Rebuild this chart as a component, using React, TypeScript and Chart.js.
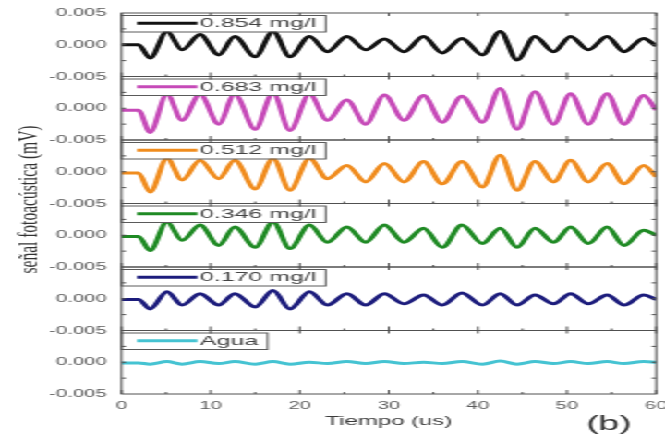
import React, { useEffect, useRef } from 'react';
import { Chart, registerables } from 'chart.js';

Chart.register(...registerables);

// ---- data ----
const tiempo = [0, 1.9, 3.2, 5.1, 6.8, 8.8, 10.9, 12.7, 15.0, 17.0, 18.9, 21.1, 23.1, 25.3, 27.4, 29.5, 31.7, 33.9, 36.0, 38.2, 40.5, 42.5, 44.4, 46.4, 48.5, 50.4, 52.4, 54.5, 56.4, 58.6, 60];

const serie0854 = [0, 0, -0.0021, 0.0021, -0.0008, 0.0016, -0.0016, 0.0013, -0.0019, 0.0021, -0.0019, 0.0013, -0.0011, 0.0013, -0.0008, 0.0009, -0.0011, 0.0013, -0.0013, 0.0010, -0.0016, 0.0021, -0.0024, 0.0013, -0.0011, 0.0013, -0.0008, 0.0013, -0.0011, 0.0010, -0.0002];
const serie0683 = [-0.0003, -0.0003, -0.0038, 0.0022, -0.0019, 0.0022, -0.0025, 0.0022, -0.0033, 0.0024, -0.0035, 0.0022, -0.0019, 0.0013, -0.0025, 0.0021, -0.0019, 0.0020, -0.0022, 0.0019, -0.0022, 0.0031, -0.0033, 0.0026, -0.0025, 0.0023, -0.0025, 0.0023, -0.0025, 0.0020, -0.0003];
const serie0512 = [-0.0002, -0.0002, -0.0032, 0.0021, -0.0013, 0.0018, -0.0011, 0.0018, -0.0027, 0.0021, -0.0029, 0.0021, -0.0011, 0.0010, -0.0016, 0.0013, -0.0016, 0.0016, -0.0019, 0.0016, -0.0024, 0.0026, -0.0029, 0.0016, -0.0016, 0.0018, -0.0016, 0.0013, -0.0019, 0.0010, -0.0008];
const serie0346 = [-0.0002, -0.0002, -0.0024, 0.0021, -0.0008, 0.0016, -0.0016, 0.0013, -0.0019, 0.0021, -0.0021, 0.0016, -0.0011, 0.0013, -0.0011, 0.0016, -0.0011, 0.0011, -0.0019, 0.0016, -0.0013, 0.0011, -0.0019, 0.0011, -0.0011, 0.0013, -0.0013, 0.0013, -0.0016, 0.0008, 0];
const serie0170 = [-0.0001, -0.0001, -0.0016, 0.0011, -0.0010, 0.0008, -0.0010, 0.0008, -0.0013, 0.0013, -0.0016, 0.0011, -0.0010, 0.0008, -0.0010, 0.0008, -0.0008, 0.0006, -0.0010, 0.0009, -0.0010, 0.0008, -0.0010, 0.0006, -0.0008, 0.0008, -0.0008, 0.0006, -0.0010, 0.0006, -0.0001];
const serieAgua = [-0.0001, -0.0001, -0.0003, 0.0001, -0.0003, 0.0001, -0.0002, 0.0001, -0.0003, 0.0001, -0.0003, 0.0000, -0.0002, 0.0001, -0.0002, 0.0001, -0.0002, 0.0000, -0.0002, 0.0001, -0.0003, 0.0002, -0.0003, 0.0001, -0.0002, 0.0001, -0.0002, 0.0001, -0.0002, 0.0001, 0.0000];

const etiquetas = ['0.854 mg/l', '0.683 mg/l', '0.512 mg/l', '0.346 mg/l', '0.170 mg/l', 'Agua'];
const series = [serie0854, serie0683, serie0512, serie0346, serie0170, serieAgua];
const colores = ['#121212', '#c64ab8', '#f08c1e', '#1f8a24', '#1c1c7c', '#45c3d2'];

const yTicks = [-0.005, 0, 0.005];
const yMinorTicks = [-0.0025, 0, 0.0025];
const xTicks = [0, 10, 20, 30, 40, 50, 60];
const xMinorTicks = [5, 15, 25, 35, 45, 55];

const tituloX = 'Tiempo (us)';
const tituloY = 'señal fotoacústica (mV)';
const marcaPanel = '(b)';

// ---- layout (unstretched canvas, stretched horizontally via CSS) ----
const W = 360;
const H = 436;
const SX = 665 / W;
const SANS = '"Liberation Sans", Arial, sans-serif';
const SERIF = '"Liberation Serif", "Times New Roman", serif';

const panelPlugin = {
  id: 'panels',
  afterDatasetsDraw(chart: any) {
    const ctx = chart.ctx;
    const xs = chart.scales.x;
    chart.data.datasets.forEach((ds: any, i: number) => {
      const ys = chart.scales['y' + i];
      ctx.save();
      ctx.font = '13.5px ' + SANS;
      const tw = ctx.measureText(ds.label).width;
      const bx = xs.left;
      const by = ys.top + 2;
      const textX = bx + 42.5;
      const bw = textX + tw + 5 - bx;
      const bh = 16.5;
      ctx.fillStyle = '#ffffff';
      ctx.fillRect(bx, by, bw, bh);
      ctx.strokeStyle = '#5a5a5a';
      ctx.lineWidth = 1;
      ctx.strokeRect(bx, by + 0.5, bw, bh);
      ctx.strokeStyle = ds.borderColor;
      ctx.lineWidth = 3;
      ctx.beginPath();
      ctx.moveTo(bx + 8.4, by + bh / 2);
      ctx.lineTo(bx + 41, by + bh / 2);
      ctx.stroke();
      ctx.fillStyle = '#444444';
      ctx.textBaseline = 'middle';
      ctx.textAlign = 'left';
      ctx.fillText(ds.label, textX, by + bh / 2 + 0.5);
      ctx.restore();
    });
  },
  afterDraw(chart: any) {
    const ctx = chart.ctx;
    const xs = chart.scales.x;
    ctx.save();
    ctx.strokeStyle = '#505050';
    ctx.lineWidth = 1;
    chart.data.datasets.forEach((_ds: any, i: number) => {
      const ys = chart.scales['y' + i];
      ctx.strokeRect(xs.left, ys.top, xs.right - xs.left, ys.bottom - ys.top);
      ctx.beginPath();
      yMinorTicks.forEach((v) => {
        const py = ys.getPixelForValue(v);
        ctx.moveTo(xs.left, py);
        ctx.lineTo(xs.left + 2.5, py);
        ctx.moveTo(xs.right, py);
        ctx.lineTo(xs.right - 2.5, py);
      });
      xTicks.forEach((v) => {
        const px = xs.getPixelForValue(v);
        ctx.moveTo(px, ys.bottom);
        ctx.lineTo(px, ys.bottom - 4);
        ctx.moveTo(px, ys.top);
        ctx.lineTo(px, ys.top + 3);
      });
      xMinorTicks.forEach((v) => {
        const px = xs.getPixelForValue(v);
        ctx.moveTo(px, ys.bottom);
        ctx.lineTo(px, ys.bottom - 2);
      });
      ctx.stroke();
    });
    // y title
    const yTop = chart.scales.y0.top;
    const yBot = chart.scales['y' + (chart.data.datasets.length - 1)].bottom;
    ctx.save();
    ctx.translate(16.2, (yTop + yBot) / 2 - 4);
    ctx.rotate(-Math.PI / 2);
    ctx.font = '15.5px ' + SERIF;
    ctx.fillStyle = '#333333';
    ctx.textAlign = 'center';
    ctx.textBaseline = 'middle';
    ctx.fillText(tituloY, 0, 0);
    ctx.restore();
    // panel mark
    ctx.font = '20px ' + SANS;
    ctx.fillStyle = '#333333';
    ctx.textAlign = 'center';
    ctx.textBaseline = 'middle';
    ctx.fillText(marcaPanel, xs.getPixelForValue(54.7), 424.5);
    ctx.restore();
  },
};

function buildYScale(i: number) {
  return {
    type: 'linear',
    position: 'left',
    stack: 'paneles',
    stackWeight: 1,
    weight: 10 - i,
    offset: false,
    min: -0.005,
    max: 0.005,
    grid: { display: false, drawTicks: false },
    border: { display: false },
    afterBuildTicks: (s: any) => {
      s.ticks = yTicks.map((v) => ({ value: v }));
    },
    afterFit: (s: any) => {
      s.width = 65.8;
      s.paddingTop = 0;
      s.paddingBottom = 0;
    },
    ticks: {
      autoSkip: false,
      padding: 8,
      color: '#5c5c5c',
      font: { family: SANS, size: 11 },
      callback: (v: number) => (i > 0 && v > 0.001 ? '' : (Math.abs(v) < 1e-9 ? 0 : v).toFixed(3)),
    },
  };
}

export default function App() {
  const ref = useRef<HTMLCanvasElement | null>(null);
  useEffect(() => {
    if (!ref.current) return;
    const scales: any = {
      x: {
        type: 'linear',
        position: 'bottom',
        min: 0,
        max: 60,
        grid: { display: false, drawTicks: false },
        border: { display: false },
        afterBuildTicks: (s: any) => {
          s.ticks = xTicks.map((v) => ({ value: v }));
        },
        afterFit: (s: any) => {
          s.height = 42;
          s.paddingLeft = 0;
          s.paddingRight = 0;
        },
        ticks: {
          autoSkip: false,
          maxRotation: 0,
          padding: 5,
          color: '#5c5c5c',
          font: { family: SANS, size: 11 },
        },
        title: {
          display: true,
          text: tituloX,
          color: '#3c3c3c',
          font: { family: SANS, size: 13 },
          padding: { top: 0, bottom: 7 },
        },
      },
    };
    series.forEach((_s, i) => {
      scales['y' + i] = buildYScale(i);
    });
    const chart = new Chart(ref.current, {
      type: 'line',
      data: {
        datasets: series.map((vals, i) => ({
          label: etiquetas[i],
          data: tiempo.map((t, k) => ({ x: t, y: vals[k] })),
          borderColor: colores[i],
          backgroundColor: colores[i],
          borderWidth: 3,
          pointRadius: 0,
          cubicInterpolationMode: 'monotone',
          fill: false,
          yAxisID: 'y' + i,
        })),
      },
      options: {
        responsive: false,
        animation: false,
        devicePixelRatio: 1,
        layout: { padding: { left: 0, right: 4.8, top: 13, bottom: 0 } },
        plugins: { legend: { display: false }, tooltip: { enabled: false } },
        scales,
      } as any,
      plugins: [panelPlugin],
    } as any);
    return () => chart.destroy();
  }, []);

  return (
    <div
      style={{
        position: 'fixed',
        left: 0,
        top: 0,
        width: W,
        height: H,
        transform: `scaleX(${SX})`,
        transformOrigin: '0 0',
        background: '#ffffff',
      }}
    >
      <canvas ref={ref} width={W} height={H} style={{ display: 'block' }} />
    </div>
  );
}
